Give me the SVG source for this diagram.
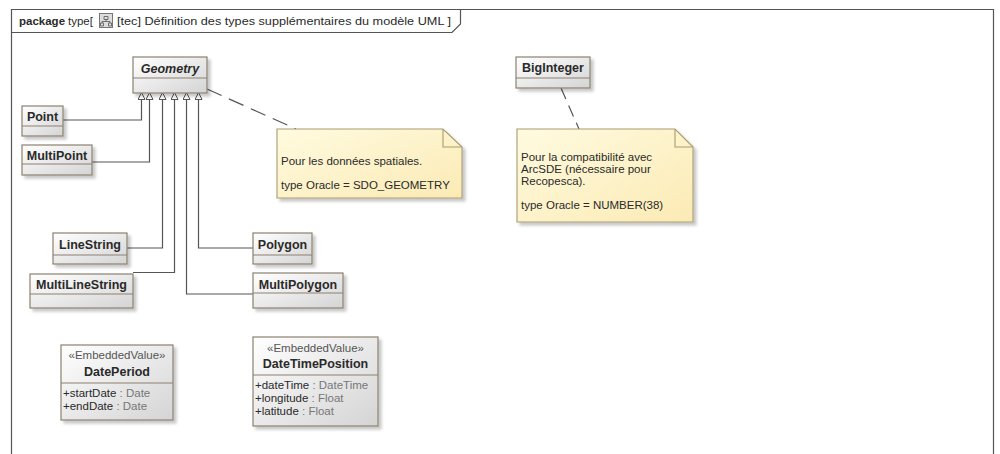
<svg xmlns="http://www.w3.org/2000/svg" width="1000" height="454" viewBox="0 0 1000 454">
<style>
text{font-family:"Liberation Sans",Arial,sans-serif;fill:#2a2a2a}
.frame{fill:none;stroke:#555;stroke-width:1.2}
.cls{fill:url(#cg);stroke:#8b8070;stroke-width:1.2;filter:url(#sh)}
.div{stroke:#8b8070;stroke-width:1.2}
.nm{font-size:12.5px;font-weight:bold;text-anchor:middle}
.st{font-size:11.5px;text-anchor:middle;fill:#555}
.at{font-size:11.5px}
.ty{fill:#777}
.note{fill:url(#ng);stroke:#a89c70;stroke-width:1.1;filter:url(#sh)}
.fold{fill:none;stroke:#a89c70;stroke-width:1.1}
.nt{font-size:11.5px}
.gen{fill:none;stroke:#555;stroke-width:1.2;marker-end:url(#tri)}
.dash{fill:none;stroke:#555;stroke-width:1.2;stroke-dasharray:16 8}
</style>
<defs>
<linearGradient id="cg" x1="0" y1="0" x2="1" y2="1">
<stop offset="0" stop-color="#ffffff"/>
<stop offset="1" stop-color="#d4d4d4"/>
</linearGradient>
<linearGradient id="ng" x1="0" y1="0" x2="1" y2="1">
<stop offset="0" stop-color="#fffbe0"/>
<stop offset="1" stop-color="#fbeab4"/>
</linearGradient>
<filter id="sh" x="-10%" y="-10%" width="130%" height="130%">
<feDropShadow dx="3" dy="3" stdDeviation="1.5" flood-color="#000" flood-opacity="0.22"/>
</filter>
<marker id="tri" viewBox="0 0 8 8" refX="0" refY="4" markerWidth="8" markerHeight="8" markerUnits="userSpaceOnUse" orient="auto">
<path d="M0.5,0.5 L7.5,4 L0.5,7.5 Z" fill="#fff" stroke="#555" stroke-width="1"/>
</marker>
</defs>
<rect width="1000" height="454" fill="#fff"/>
<g id="frame">
<path class="frame" d="M11.5,470 V9.5 H993.5 V470"/>
<path class="frame" d="M11.5,32.5 H452 L460.5,24 V9.5"/>
<text x="19" y="25" style="font-size:11.5px;font-weight:bold">package</text>
<text x="68" y="25" style="font-size:11.5px">type[</text>
<rect x="99.5" y="13.5" width="13" height="14" fill="#ddd" stroke="#777" stroke-width="1"/>
<path d="M104,16.5 h4 v3 h-4 z M106,19.5 v2 M102,21.5 h8 M102,21.5 v1.5 M110,21.5 v1.5 M100.5,23 h3 v3 h-3 z M108.5,23 h3 v3 h-3 z" fill="none" stroke="#555" stroke-width="0.8"/>
<text x="117" y="25" style="font-size:11.5px" textLength="334" lengthAdjust="spacingAndGlyphs">[tec] Définition des types supplémentaires du modèle UML ]</text>
</g>
<g id="connectors">
<path class="gen" d="M63,120 H141.5 V100"/>
<path class="gen" d="M92,162 H149.5 V100"/>
<path class="gen" d="M127,248 H162.5 V100"/>
<path class="gen" d="M133,272.5 H174.5 V100"/>
<path class="gen" d="M253,294 H186.5 V100"/>
<path class="gen" d="M253,248 H198.5 V100"/>
<path class="dash" d="M207,89 L296,129"/>
<path class="dash" d="M561,88 L579,129" style="stroke-dasharray:12 7"/>
</g>
<g id="Geometry">
<rect class="cls" x="133" y="57" width="74" height="36"/>
<line class="div" x1="133" y1="78" x2="207" y2="78"/>
<text class="nm" x="170" y="73" font-style="italic">Geometry</text>
</g>
<g id="Point">
<rect class="cls" x="22" y="106" width="41" height="30"/>
<line class="div" x1="22" y1="126" x2="63" y2="126"/>
<text class="nm" x="42.5" y="121">Point</text>
</g>
<g id="MultiPoint">
<rect class="cls" x="22" y="145" width="70" height="30"/>
<line class="div" x1="22" y1="164" x2="92" y2="164"/>
<text class="nm" x="57" y="160">MultiPoint</text>
</g>
<g id="LineString">
<rect class="cls" x="53" y="233" width="74" height="31"/>
<line class="div" x1="53" y1="255" x2="127" y2="255"/>
<text class="nm" x="90" y="249">LineString</text>
</g>
<g id="MultiLineString">
<rect class="cls" x="30" y="274" width="103" height="34"/>
<line class="div" x1="30" y1="294" x2="133" y2="294"/>
<text class="nm" x="81.5" y="289">MultiLineString</text>
</g>
<g id="Polygon">
<rect class="cls" x="253" y="233" width="59" height="31"/>
<line class="div" x1="253" y1="255" x2="312" y2="255"/>
<text class="nm" x="282.5" y="249">Polygon</text>
</g>
<g id="MultiPolygon">
<rect class="cls" x="253" y="273" width="90" height="35"/>
<line class="div" x1="253" y1="293" x2="343" y2="293"/>
<text class="nm" x="298" y="289">MultiPolygon</text>
</g>
<g id="BigInteger">
<rect class="cls" x="516" y="57" width="74" height="31"/>
<line class="div" x1="516" y1="78" x2="590" y2="78"/>
<text class="nm" x="553" y="72">BigInteger</text>
</g>
<g id="note-geometry">
<path class="note" d="M277,129 H443 L462,147 V198 H277 Z"/>
<path class="fold" d="M443,129 V147 H462"/>
<text class="nt" x="281" y="165">Pour les données spatiales.</text>
<text class="nt" x="281" y="189">type Oracle = SDO_GEOMETRY</text>
</g>
<g id="note-biginteger">
<path class="note" d="M517,129 H675 L693,147 V222 H517 Z"/>
<path class="fold" d="M675,129 V147 H693"/>
<text class="nt" x="521" y="161">Pour la compatibilité avec</text>
<text class="nt" x="521" y="173">ArcSDE (nécessaire pour</text>
<text class="nt" x="521" y="185">Recopesca).</text>
<text class="nt" x="521" y="209">type Oracle = NUMBER(38)</text>
</g>
<g id="DatePeriod">
<rect class="cls" x="61" y="345" width="112" height="75"/>
<line class="div" x1="61" y1="383" x2="173" y2="383"/>
<text class="st" x="117" y="359">«EmbeddedValue»</text>
<text class="nm" x="117" y="376">DatePeriod</text>
<text class="at" x="63" y="397">+startDate <tspan class="ty">: Date</tspan></text>
<text class="at" x="63" y="410">+endDate <tspan class="ty">: Date</tspan></text>
</g>
<g id="DateTimePosition">
<rect class="cls" x="253" y="337" width="125" height="89"/>
<line class="div" x1="253" y1="375" x2="378" y2="375"/>
<text class="st" x="315.5" y="352">«EmbeddedValue»</text>
<text class="nm" x="315.5" y="368">DateTimePosition</text>
<text class="at" x="255" y="389">+dateTime <tspan class="ty">: DateTime</tspan></text>
<text class="at" x="255" y="402">+longitude <tspan class="ty">: Float</tspan></text>
<text class="at" x="255" y="415">+latitude <tspan class="ty">: Float</tspan></text>
</g>
</svg>
